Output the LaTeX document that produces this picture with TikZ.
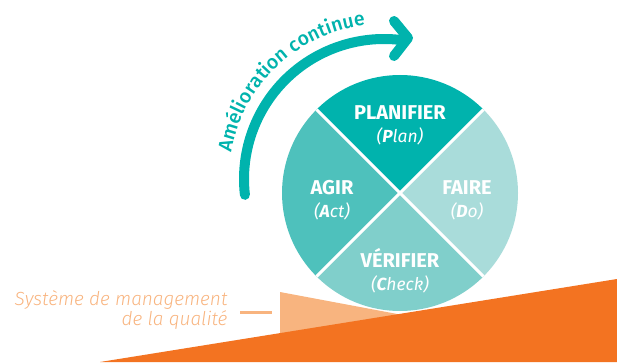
\documentclass[tikz,border=0pt]{standalone}
\usepackage{fontspec}
\setmainfont{Fira Sans}
\newfontfamily\lightfont{Fira Sans Light}
\newfontfamily\medfont{Fira Sans Medium}
\usepackage{xcolor}
\usepackage{tikz}
\usetikzlibrary{positioning}
\usetikzlibrary{calc}
\usetikzlibrary{decorations.text}
\definecolor{pdcateal}{HTML}{00B3AD}
\definecolor{pdcaplan}{HTML}{00B3AD}
\definecolor{pdcaact}{HTML}{4EC1BC}
\definecolor{pdcado}{HTML}{A9DCDA}
\definecolor{pdcacheck}{HTML}{80CFCB}
\definecolor{qmsorange}{HTML}{F37321}
\definecolor{qmspeach}{HTML}{F8B47F}
\tikzstyle{separator}=[draw=white,line width=3pt]
\tikzstyle{quadtext}=[text=white,align=center,font=\fontsize{20}{23}\selectfont]
\tikzstyle{looparrow} = [draw=pdcateal,line width=10pt,line cap=round,line join=round]
\tikzstyle{qmstext} = [text=qmspeach,align=right,font=\lightfont\itshape\fontsize{19}{19.5}\selectfont]
\tikzstyle{qmsdash} = [draw=qmspeach,line width=3pt]

\begin{document}
\begin{tikzpicture}[x=1pt,y=1pt]

 \useasboundingbox (0,0) rectangle (617,362);

 %wedge under the wheel
 \fill[qmspeach] (280,70) -- (280,20) -- (440,40) -- cycle;

 %wheel
  \def\r{118};
 \coordinate (c) at (400,169);

   \foreach \a/\col in {45/pdcaplan, 135/pdcaact, 225/pdcacheck, 315/pdcado}
          \fill[\col] (c) -- ++(\a:\r) arc[start angle=\a, end angle=\a+90, radius=\r] -- cycle;

   \foreach \a in {45,135,225,315}
          \coordinate (rim\a) at ($(c)+(\a:\r)$);

  \foreach \source/ \dest in {rim45/rim225, rim135/rim315}
         \path[separator] (\source) -- (\dest);

   \foreach \x/\y/\name/\title/\sub in {400/237/plan/PLANIFIER/{(\textbf{P}lan)}, 332/162/act/AGIR/{(\textbf{A}ct)},
                                        467/162/do/FAIRE/{(\textbf{D}o)}, 400/91/check/VÉRIFIER/{(\textbf{C}heck)}}
          \node[quadtext] (\name) at (\x,\y) {\textbf{\title}\\\fontsize{17.5}{23}\selectfont\itshape\sub};

 %arrow
 \coordinate (ac) at (384,183);
 \draw[looparrow] ($(ac)+(186.5:140)$) arc[start angle=186.5, end angle=84, radius=140] coordinate (arcend);
 \coordinate (tip) at (408,324);
 \draw[looparrow] (394,341) -- (tip) -- (394,306);

 \path[decorate, decoration={text along path, text align=center, text color=pdcateal,
        text={|\medfont\fontsize{19.5}{19.5}\selectfont|Amélioration continue}}]
        ($(ac)+(178:155)$) arc[start angle=178, end angle=89, radius=155];

 %ground
 \fill[qmsorange] (100,0) -- (617,83) -- (617,0) -- cycle;

 \node[qmstext, anchor=east] (qms) at (231,52) {Système de management\\de la qualité};
 \coordinate (wedge) at (272,50);
 \path[qmsdash] ([xshift=9pt,yshift=-2pt]qms.east) -- (wedge);

\end{tikzpicture}
\end{document}
